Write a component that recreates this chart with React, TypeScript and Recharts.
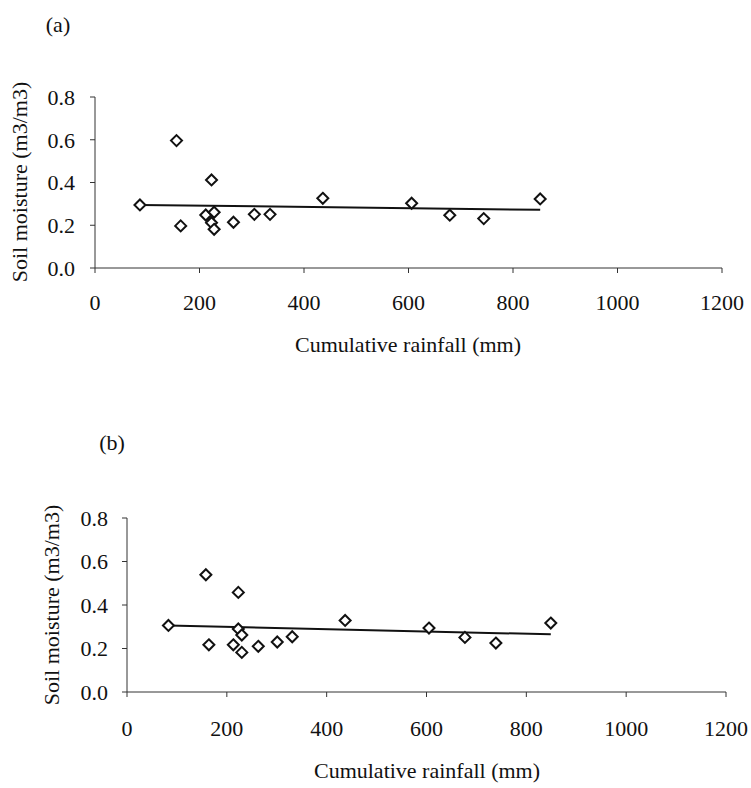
import { ScatterChart, Scatter, XAxis, YAxis } from "recharts";

type Pt = { x: number; y: number };

// panel (a) readings
const rainA = [86, 156, 164, 212, 223, 228, 223, 228, 265, 305, 335, 436, 606, 679, 744, 852];
const moistA = [0.295, 0.596, 0.197, 0.248, 0.412, 0.261, 0.212, 0.181, 0.214, 0.251, 0.251, 0.326, 0.303, 0.247, 0.231, 0.323];
const trendRainA = [86, 852];
const trendMoistA = [0.295, 0.272];

// panel (b) readings
const rainB = [83, 158, 164, 213, 223, 223, 230, 230, 263, 301, 331, 437, 605, 677, 739, 849];
const moistB = [0.306, 0.539, 0.217, 0.217, 0.458, 0.29, 0.262, 0.182, 0.21, 0.23, 0.254, 0.329, 0.294, 0.251, 0.225, 0.317];
const trendRainB = [83, 849];
const trendMoistB = [0.306, 0.265];

const xTicks = [0, 200, 400, 600, 800, 1000, 1200];
const yTicks = [0, 0.2, 0.4, 0.6, 0.8];

const toPts = (xs: number[], ys: number[]): Pt[] => xs.map((x, i) => ({ x, y: ys[i] }));

const FONT = "'Liberation Serif', 'Times New Roman', serif";

// open diamond marker, like the excel one
const Diamond = (props: any) => {
  const { cx, cy } = props;
  if (cx == null || cy == null) return <g />;
  const r = 5.5;
  return (
    <polygon
      points={`${cx},${cy - r} ${cx + r},${cy} ${cx},${cy + r} ${cx - r},${cy}`}
      fill="#fff"
      stroke="#111"
      strokeWidth={2}
    />
  );
};

const NoDot = () => <g />;

type PanelProps = {
  top: number;
  points: Pt[];
  trend: Pt[];
  margin: { top: number; right: number; bottom: number; left: number };
  xTickMargin: number;
  yTickMargin: number;
};

const Panel = ({ top, points, trend, margin, xTickMargin, yTickMargin }: PanelProps) => {
  return (
    <div style={{ position: "absolute", left: 0, top, width: 751, height: 380 }}>
      <ScatterChart width={751} height={380} margin={margin}>
        <XAxis
          type="number"
          dataKey="x"
          domain={[0, 1200]}
          ticks={xTicks}
          interval={0}
          height={60}
          tickSize={5}
          tickMargin={xTickMargin}
          stroke="#333"
          tick={{ fill: "#111", fontSize: 22, fontFamily: FONT }}
        />
        <YAxis
          type="number"
          dataKey="y"
          domain={[0, 0.8]}
          ticks={yTicks}
          interval={0}
          width={60}
          tickSize={5}
          tickMargin={yTickMargin}
          stroke="#333"
          tickFormatter={(v: number) => v.toFixed(1)}
          tick={{ fill: "#111", fontSize: 22, fontFamily: FONT }}
        />
        <Scatter
          data={trend}
          line={{ stroke: "#111", strokeWidth: 2 }}
          shape={NoDot}
          isAnimationActive={false}
        />
        <Scatter data={points} shape={Diamond} isAnimationActive={false} />
      </ScatterChart>
    </div>
  );
};

const textStyle = {
  position: "absolute" as const,
  fontFamily: FONT,
  fontSize: 22,
  color: "#111",
  whiteSpace: "nowrap" as const,
  transform: "translate(-50%, -50%)",
};

export default function App() {
  return (
    <div style={{ position: "absolute", left: 0, top: 0, width: 751, height: 788, background: "#fff" }}>
      <Panel
        top={0}
        points={toPts(rainA, moistA)}
        trend={toPts(trendRainA, trendMoistA)}
        margin={{ top: 97, right: 29, bottom: 52, left: 35 }}
        xTickMargin={21}
        yTickMargin={15}
      />
      <Panel
        top={400}
        points={toPts(rainB, moistB)}
        trend={toPts(trendRainB, trendMoistB)}
        margin={{ top: 118, right: 25, bottom: 28, left: 67 }}
        xTickMargin={23}
        yTickMargin={14}
      />
      <div style={{ ...textStyle, left: 58, top: 25 }}>(a)</div>
      <div style={{ ...textStyle, left: 112, top: 443 }}>(b)</div>
      <div style={{ ...textStyle, left: 408, top: 345 }}>Cumulative rainfall (mm)</div>
      <div style={{ ...textStyle, left: 427, top: 771 }}>Cumulative rainfall (mm)</div>
      <div style={{ ...textStyle, left: 20, top: 182, transform: "translate(-50%, -50%) rotate(-90deg)" }}>
        Soil moisture (m3/m3)
      </div>
      <div style={{ ...textStyle, left: 52, top: 605, transform: "translate(-50%, -50%) rotate(-90deg)" }}>
        Soil moisture (m3/m3)
      </div>
    </div>
  );
}
